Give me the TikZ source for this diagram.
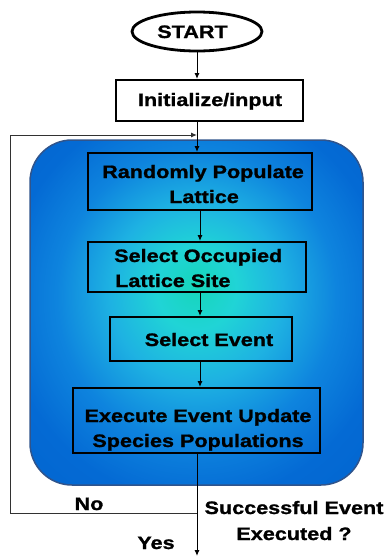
\documentclass[tikz,border=0pt]{standalone}
\usepackage{fontspec}
\setmainfont{Liberation Sans}[FakeStretch=1.2, BoldFeatures={FakeBold=1.2}]
\usetikzlibrary{arrows.meta,shapes.geometric}

\definecolor{glowA}{RGB}{22,214,186}
\definecolor{glowB}{RGB}{32,212,214}
\definecolor{glowC}{RGB}{30,178,226}
\definecolor{glowD}{RGB}{14,132,222}
\definecolor{glowE}{RGB}{4,106,212}
\definecolor{glowF}{RGB}{0,96,202}
\definecolor{panelEdge}{RGB}{48,84,140}
\definecolor{loopGray}{RGB}{50,50,50}

\pgfdeclareradialshading{panelglow}{\pgfpoint{0bp}{4bp}}{%
  color(0bp)=(glowA); color(6bp)=(glowB); color(13bp)=(glowC);
  color(21bp)=(glowD); color(29bp)=(glowE); color(50bp)=(glowF)}

\tikzset{
  panel/.style={shade, shading=panelglow, draw=panelEdge, line width=1.5pt,
    rounded corners=42pt, inner sep=0pt},
  stepbox/.style={draw=black, line width=2pt, inner sep=0pt},
  startshape/.style={ellipse, draw=black, line width=2.8pt, inner sep=0pt,
    minimum width=130pt, minimum height=39pt},
  lbl/.style={font=\bfseries\fontsize{18}{22}\selectfont, inner sep=0pt, anchor=base},
  lblw/.style={lbl, anchor=base west},
  conn/.style={draw=black, line width=1pt},
  arr/.style={conn, -{Latex[length=6pt,width=5pt]}},
  loop/.style={draw=loopGray, line width=1pt}
}

\begin{document}
\begin{tikzpicture}[x=1pt,y=-1pt]
\useasboundingbox (0,0) rectangle (389,558);

% blue glowing panel behind the loop body
\node[panel, minimum width=333pt, minimum height=345pt] (panel) at (196.5,312.5) {};

% start terminal and input box
\node[startshape] (start) at (197,31.5) {};
\node[lbl] (t-start) at (192.5,38) {START};

\node[stepbox, minimum width=187pt, minimum height=41pt] (init) at (209.5,100.5) {};
\node[lbl] (t-init) at (210,106) {Initialize/input};

% loop body
\node[stepbox, minimum width=224pt, minimum height=57pt] (rand) at (200,181.5) {};
\node[lbl] (t-rand1) at (203,178) {Randomly Populate};
\node[lbl] (t-rand2) at (204,203) {Lattice};

\node[stepbox, minimum width=218pt, minimum height=50pt] (occ) at (197,267) {};
\node[lblw] (t-occ1) at (114,262) {Select Occupied};
\node[lblw] (t-occ2) at (115,287) {Lattice Site};

\node[stepbox, minimum width=182pt, minimum height=44pt] (evt) at (201,339) {};
\node[lbl] (t-evt) at (209,346) {Select Event};

\node[stepbox, minimum width=247pt, minimum height=65pt] (exe) at (196.5,420.5) {};
\node[lbl] (t-exe1) at (198,422) {Execute Event Update};
\node[lbl] (t-exe2) at (198,447) {Species Populations};

% decision labels
\node[lbl] (t-no) at (89,510) {No};
\node[lbl] (t-succ1) at (294,514) {Successful Event};
\node[lbl] (t-succ2) at (294,540) {Executed ?};
\node[lbl] (t-yes) at (156,549) {Yes};

% loop-back path and exit
\coordinate (junction) at (197,513);
\coordinate (loopbl) at (10,513);
\coordinate (looptl) at (10,135);
\coordinate (loopin) at (197,135);
\coordinate (exit) at (197,556);

% connectors
\draw[arr] (start.south) -- (start.south |- init.north);
\draw[arr] (start.south |- init.south) -- (start.south |- rand.north);
\draw[arr] (rand.south) -- (rand.south |- occ.north);
\draw[arr] (rand.south |- occ.south) -- (rand.south |- evt.north);
\draw[arr] (rand.south |- evt.south) -- (rand.south |- exe.north);
\draw[arr] (start.south |- exe.south) -- (exit);
\draw[loop] (junction) -- (loopbl) -- (looptl);
\draw[loop, -{Latex[length=6pt,width=5pt]}] (looptl) -- (loopin);
\end{tikzpicture}
\end{document}
